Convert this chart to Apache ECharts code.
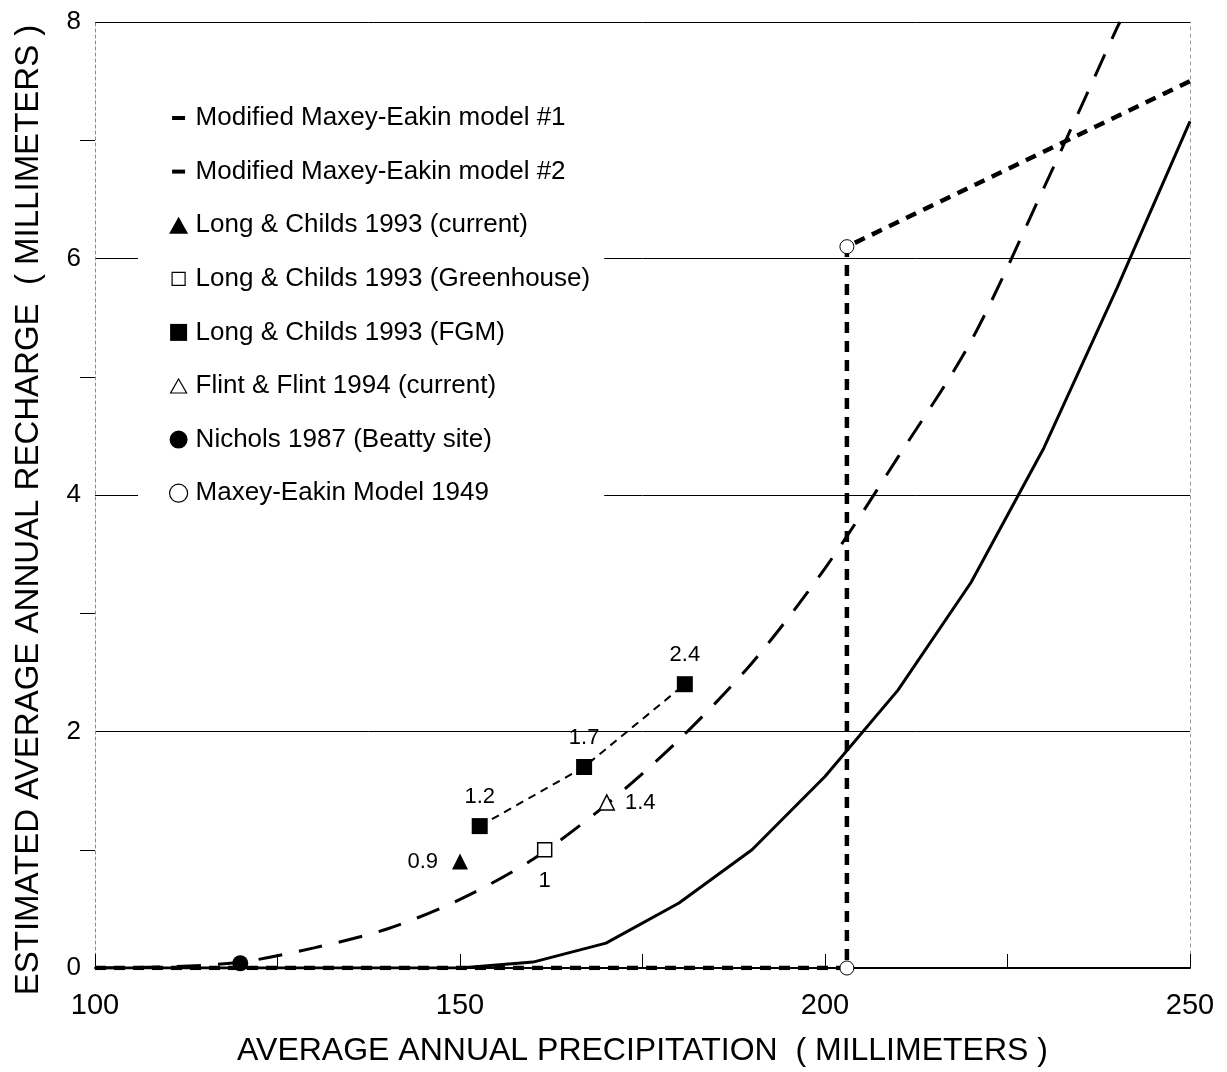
<!DOCTYPE html>
<html>
<head>
<meta charset="utf-8">
<script src="https://cdn.jsdelivr.net/npm/echarts@6/dist/echarts.min.js"></script>
<style>
html,body{margin:0;padding:0;background:#fff;}
#chart{width:1227px;height:1072px;}
</style>
</head>
<body>
<div id="chart"></div>
<script>
// ---- data ----
var model1X = [100, 110, 120, 130, 140, 150, 160, 170, 180, 190, 200, 210, 220, 230, 240, 250];
var model1Y = [0, 0, 0, 0, 0, 0, 0.05, 0.21, 0.55, 1.0, 1.62, 2.35, 3.26, 4.4, 5.75, 7.16];
var model2X = [100, 110, 120, 130, 140, 150, 160, 170, 180, 190, 200, 210, 220, 230, 240, 240.4];
var model2Y = [0, 0.01, 0.05, 0.17, 0.33, 0.58, 0.92, 1.38, 1.93, 2.58, 3.38, 4.32, 5.3, 6.6, 7.95, 8.0];
var maxeyX = [100, 203, 203, 250];
var maxeyY = [0, 0, 6.1, 7.5];
var maxeyPtX = [203, 203];
var maxeyPtY = [0, 6.1];
var lcCurrentX = [150];
var lcCurrentY = [0.9];
var lcGreenX = [161.6];
var lcGreenY = [1.0];
var lcFgmX = [152.7, 167, 180.8];
var lcFgmY = [1.2, 1.7, 2.4];
var flintX = [170.1];
var flintY = [1.4];
var nicholsX = [119.9];
var nicholsY = [0.04];
var xTicks = [100, 150, 200, 250];
var yTicks = [0, 2, 4, 6, 8];
var seriesNames = [
  'Modified Maxey-Eakin model #1',
  'Modified Maxey-Eakin model #2',
  'Long & Childs 1993 (current)',
  'Long & Childs 1993 (Greenhouse)',
  'Long & Childs 1993 (FGM)',
  'Flint & Flint 1994 (current)',
  'Nichols 1987 (Beatty site)',
  'Maxey-Eakin Model 1949'
];

function pairs(xs, ys) { return xs.map(function (x, i) { return [x, ys[i]]; }); }

var FONT = '"Liberation Sans", Arial, sans-serif';
var chart = echarts.init(document.getElementById('chart'), null, {renderer: 'canvas'});

var valLabel = function (pos, dist) {
  return {show: true, position: pos, distance: dist, color: '#000', fontSize: 22, fontFamily: FONT,
    formatter: function (p) { return String(p.value[1]); }};
};
// legend icons inside a fixed 24x18 box (the two move-to points fix the box)
var BOX = 'path://M0,0 M24,18 ';
var dashIcon = BOX + 'M5.5,7h13v4h-13z';
var triIcon = BOX + 'M12,0.5L21.5,17.5L2.5,17.5z';
var smallTriIcon = BOX + 'M12,2L20,16L4,16z';
var sqIcon = BOX + 'M3.5,0.5h17v17h-17z';
var smallSqIcon = BOX + 'M5.5,2.5h13v13h-13z';
var circIcon = BOX + 'M12,0A9,9 0 1 1 11.99,0z';
var hollow = {color: '#fff', borderColor: '#000', borderWidth: 1.2, opacity: 1};
var solid = {color: '#000', opacity: 1};

var option = {
  backgroundColor: '#fff',
  animation: false,
  grid: {left: 95, right: 37, top: 22, bottom: 104, containLabel: false, outerBoundsMode: 'none'},
  legend: {
    orient: 'vertical',
    left: 138, top: 95,
    padding: [10, 14, 10, 28],
    backgroundColor: '#fff',
    itemWidth: 24, itemHeight: 18,
    itemGap: 27.6,
    textStyle: {fontSize: 26, lineHeight: 26, fontFamily: FONT, color: '#000'},
    data: [
      {name: seriesNames[0], icon: dashIcon, itemStyle: solid},
      {name: seriesNames[1], icon: dashIcon, itemStyle: solid},
      {name: seriesNames[2], icon: triIcon, itemStyle: solid},
      {name: seriesNames[3], icon: smallSqIcon, itemStyle: hollow},
      {name: seriesNames[4], icon: sqIcon, itemStyle: solid},
      {name: seriesNames[5], icon: smallTriIcon, itemStyle: hollow},
      {name: seriesNames[6], icon: circIcon, itemStyle: solid},
      {name: seriesNames[7], icon: circIcon, itemStyle: hollow}
    ]
  },
  xAxis: {
    type: 'value', min: 100, max: 250, interval: 50,
    name: 'AVERAGE ANNUAL PRECIPITATION  ( MILLIMETERS )',
    nameLocation: 'middle', nameGap: 67,
    nameTextStyle: {fontSize: 32, fontFamily: FONT, color: '#000'},
    axisLine: {show: true, onZero: false, lineStyle: {color: '#000', width: 2}},
    axisTick: {show: true, inside: true, length: 14, lineStyle: {color: '#000', width: 1}},
    minorTick: {show: true, splitNumber: 2, length: 14, lineStyle: {color: '#000', width: 1}},
    axisLabel: {fontSize: 29, fontFamily: FONT, color: '#000', margin: 23,
      customValues: xTicks},
    splitLine: {show: false}
  },
  yAxis: [{
    type: 'value', min: 0, max: 8, interval: 2,
    name: 'ESTIMATED AVERAGE ANNUAL RECHARGE  ( MILLIMETERS )',
    nameLocation: 'middle', nameGap: 50,
    nameTextStyle: {fontSize: 33, fontFamily: FONT, color: '#000', padding: [0, 30, 0, 0]},
    axisLine: {show: true, lineStyle: {color: '#888', width: 1, type: [3, 3]}},
    axisTick: {show: false},
    minorTick: {show: true, splitNumber: 2, length: 15, lineStyle: {color: '#000', width: 1}},
    axisLabel: {fontSize: 26, fontFamily: FONT, color: '#000', margin: 14,
      customValues: yTicks},
    splitLine: {show: true, lineStyle: {color: '#000', width: 1}}
  }, {
    type: 'value', min: 0, max: 8, position: 'right',
    axisLine: {show: true, lineStyle: {color: '#999', width: 1, type: [3, 4]}},
    axisTick: {show: false}, axisLabel: {show: false}, splitLine: {show: false}
  }],
  series: [
    {
      name: seriesNames[0], type: 'line', data: pairs(model1X, model1Y),
      showSymbol: false, symbol: 'none', z: 3,
      lineStyle: {color: '#000', width: 3}, itemStyle: solid
    },
    {
      name: seriesNames[1], type: 'line', data: pairs(model2X, model2Y),
      showSymbol: false, symbol: 'none', z: 3, smooth: 0.3,
      lineStyle: {color: '#000', width: 3, type: [24, 17]}, itemStyle: solid
    },
    {
      name: seriesNames[2], type: 'scatter', data: pairs(lcCurrentX, lcCurrentY),
      symbol: 'triangle', symbolSize: 16, z: 5,
      itemStyle: solid, label: valLabel('left', 14)
    },
    {
      name: seriesNames[3], type: 'scatter', data: pairs(lcGreenX, lcGreenY),
      symbol: 'rect', symbolSize: 14, z: 5,
      itemStyle: {color: '#fff', borderColor: '#000', borderWidth: 1.5, opacity: 1},
      label: valLabel('bottom', 12)
    },
    {
      name: seriesNames[4], type: 'line', data: pairs(lcFgmX, lcFgmY),
      symbol: 'rect', symbolSize: 16, showSymbol: true, z: 5,
      lineStyle: {color: '#000', width: 2, type: [8, 6]},
      itemStyle: solid, label: valLabel('top', 10)
    },
    {
      name: seriesNames[5], type: 'scatter', data: pairs(flintX, flintY),
      symbol: 'triangle', symbolSize: 15, z: 5,
      itemStyle: {color: '#fff', borderColor: '#000', borderWidth: 1.5, opacity: 1},
      label: valLabel('right', 10)
    },
    {
      name: seriesNames[6], type: 'scatter', data: pairs(nicholsX, nicholsY),
      symbol: 'circle', symbolSize: 16, z: 5,
      itemStyle: solid
    },
    {
      name: seriesNames[7], type: 'line', data: pairs(maxeyX, maxeyY),
      showSymbol: false, symbol: 'none', z: 4,
      lineStyle: {color: '#000', width: 4.5, type: [11, 8]}, itemStyle: solid
    },
    {
      name: seriesNames[7], type: 'scatter', data: pairs(maxeyPtX, maxeyPtY),
      symbol: 'circle', symbolSize: 14, z: 6,
      itemStyle: {color: '#fff', borderColor: '#000', borderWidth: 1, opacity: 1}
    }
  ]
};
chart.setOption(option);
</script>
</body>
</html>
